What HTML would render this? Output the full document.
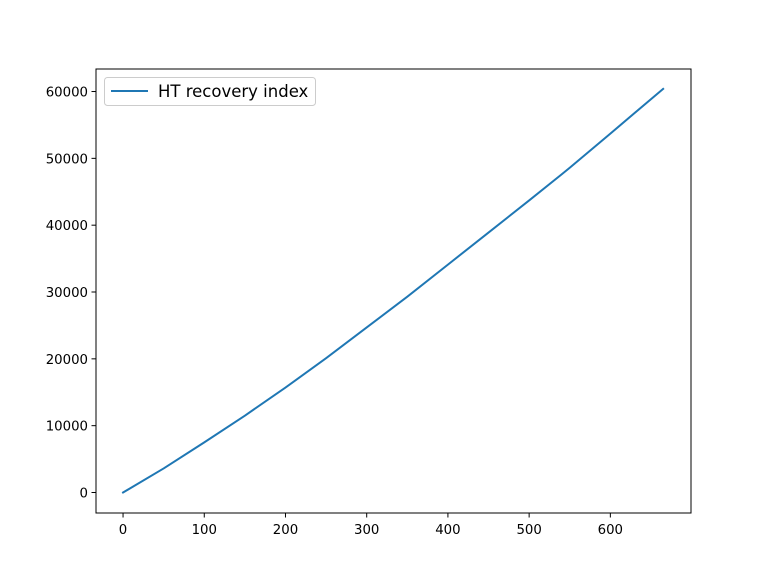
<!DOCTYPE html>
<html><head><meta charset="utf-8"><style>
html,body{margin:0;padding:0;background:#fff;}
svg{display:block;font-family:"DejaVu Sans","Liberation Sans",sans-serif;}
</style></head><body>
<svg id="chart" width="768" height="576" viewBox="0 0 768 576">
<rect width="768" height="576" fill="#fff"/>
<g id="plot"></g>
</svg>
<script>
const xValues=[0,50,100,150,200,250,300,350,400,450,500,540,550,600,665];
const yValues=[0,3600,7500,11500,15700,20100,24700,29300,34100,38900,43700,47600,48600,53700,60400];
const xTicks=[0,100,200,300,400,500,600];
const yTicks=[0,10000,20000,30000,40000,50000,60000];
const seriesName="HT recovery index";

const L=96,R=691,T=69,B=513;
const xMin=-33.3,xMax=699.3;
const y0px=492.5,yPer=66.83/10000;
const sx=v=>L+(v-xMin)/(xMax-xMin)*(R-L);
const sy=v=>y0px-v*yPer;
const NS="http://www.w3.org/2000/svg";
const g=document.getElementById('plot');
function mk(tag,attrs,parent){const e=document.createElementNS(NS,tag);for(const k in attrs)e.setAttribute(k,attrs[k]);(parent||g).appendChild(e);return e;}

const frame=mk('rect',{x:L,y:T,width:R-L,height:B-T,fill:'none',stroke:'#000','stroke-width':1});



xTicks.forEach(t=>{
  const x=sx(t);
  const ln=mk('line',{x1:x,x2:x,y1:B,y2:B+4.5,stroke:'#000','stroke-width':1});
  
  
  const tx=mk('text',{x:x,y:B+21,'text-anchor':'middle','font-size':'13.3px',fill:'#000'});
  tx.textContent=t;
  
  
});
yTicks.forEach(t=>{
  const y=sy(t);
  const ln=mk('line',{x1:L-4.5,x2:L,y1:y,y2:y,stroke:'#000','stroke-width':1});
  
  
  const tx=mk('text',{x:L-8,y:y+5,'text-anchor':'end','font-size':'13.3px',fill:'#000'});
  tx.textContent=t;
  
  
});

const pts=xValues.map((x,i)=>sx(x).toFixed(2)+','+sy(yValues[i]).toFixed(2)).join(' ');
const line=mk('polyline',{points:pts,fill:'none',stroke:'#1f77b4','stroke-width':2,'stroke-linejoin':'round','stroke-linecap':'square'});



const lg=mk('g',{});


mk('rect',{x:104.5,y:77.5,width:211,height:28,rx:3,fill:'#fff','fill-opacity':0.8,stroke:'#ccc','stroke-width':1},lg);
mk('line',{x1:111,x2:148,y1:91,y2:91,stroke:'#1f77b4','stroke-width':2},lg);
const lt=mk('text',{x:158,y:97,'font-size':'16.5px',fill:'#000'},lg);
lt.textContent=seriesName;


</script>
</body></html>
